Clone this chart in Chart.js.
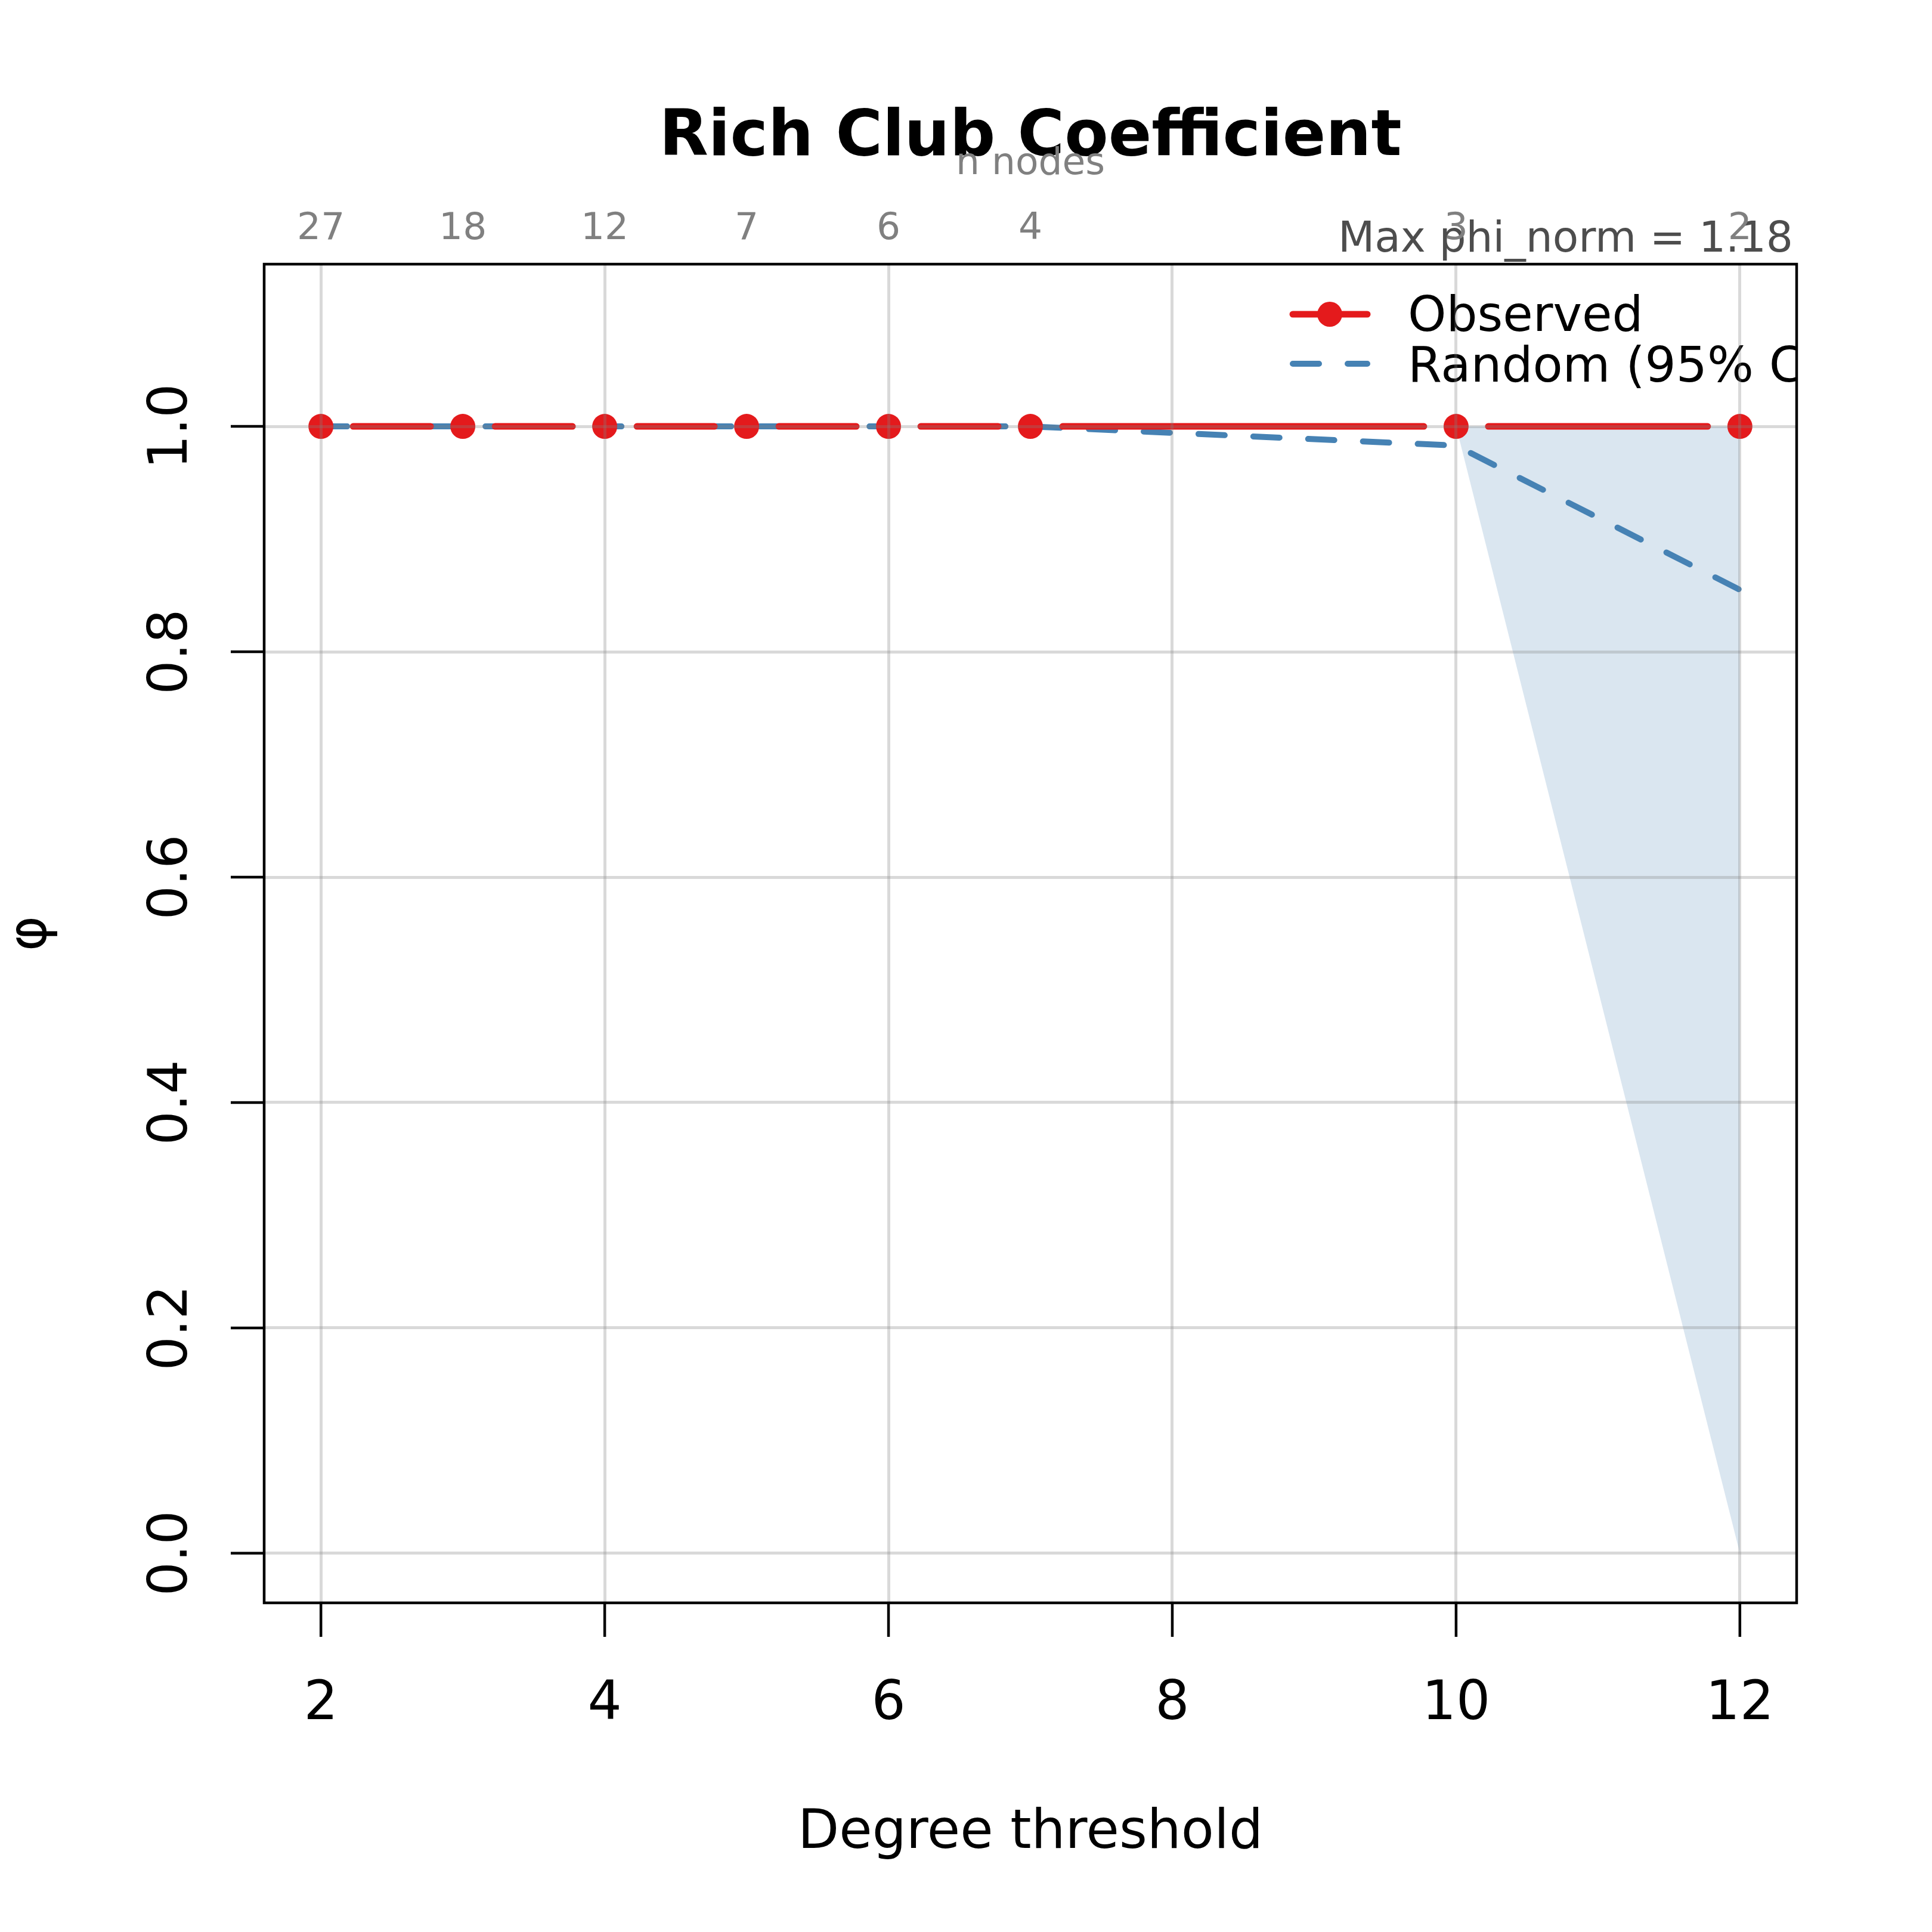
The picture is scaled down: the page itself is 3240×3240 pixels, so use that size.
<!DOCTYPE html>
<html>
<head>
<meta charset="utf-8">
<script src="https://cdn.jsdelivr.net/npm/chart.js@4.4.1/dist/chart.umd.min.js"></script>
<style>
  html, body { margin: 0; padding: 0; background: #fff; }
  #wrap { width: 3240px; height: 3240px; }
</style>
</head>
<body>
<div id="wrap"><canvas id="chart" width="3240" height="3240"></canvas></div>
<script>
// values
const degrees = [2, 3, 4, 5, 6, 7, 10, 12];
const nNodes = [27, 18, 12, 7, 6, 4, 3, 2];
const observed = [1, 1, 1, 1, 1, 1, 1, 1];
const randomMean = [1, 1, 1, 1, 1, 1, 0.983, 0.855];
const randomUpper = [1, 1, 1, 1, 1, 1, 1, 1];
const randomLower = [1, 1, 1, 1, 1, 1, 1, 0];
const xTicks = [2, 4, 6, 8, 10, 12];
const yTicks = [0, 0.2, 0.4, 0.6, 0.8, 1.0];
const maxPhiNorm = 1.18;

const RED = '#E41A1C';
const BLUE = '#4682B4';
const BAND = 'rgba(70, 130, 180, 0.2)';
const GRID = 'rgba(128, 128, 128, 0.3)';
const FONT = '"DejaVu Sans", "Liberation Sans", sans-serif';
const GAP = 54; // gap left around each point, like type = "b"

function toXY(vals) {
  return degrees.map((d, i) => ({ x: d, y: vals[i] }));
}

// axes, labels, legend and titles drawn on top of the library's scales
const rPlot = {
  id: 'rPlot',
  afterDatasetsDraw(chart) {
    const { ctx, chartArea: a } = chart;
    ctx.save();
    ctx.beginPath();
    ctx.rect(a.left, a.top - 200, a.right - a.left, a.bottom - a.top + 200);
    ctx.clip();

    // legend
    ctx.lineCap = 'round';
    ctx.strokeStyle = RED;
    ctx.lineWidth = 11;
    ctx.beginPath();
    ctx.moveTo(2168, 527);
    ctx.lineTo(2293, 527);
    ctx.stroke();
    ctx.fillStyle = RED;
    ctx.beginPath();
    ctx.arc(2230, 527, 21, 0, Math.PI * 2);
    ctx.fill();

    ctx.strokeStyle = BLUE;
    ctx.lineWidth = 10;
    ctx.setLineDash([44, 48]);
    ctx.beginPath();
    ctx.moveTo(2168, 610);
    ctx.lineTo(2293, 610);
    ctx.stroke();
    ctx.setLineDash([]);

    ctx.fillStyle = '#000';
    ctx.font = '82px ' + FONT;
    ctx.textAlign = 'left';
    ctx.textBaseline = 'alphabetic';
    ctx.fillText('Observed', 2361, 555);
    ctx.fillText('Random (95% CI)', 2361, 640);
    ctx.restore();
  },
  afterDraw(chart) {
    const { ctx, chartArea: a, scales: { x, y } } = chart;
    ctx.save();

    // box
    ctx.strokeStyle = '#000';
    ctx.lineWidth = 4.5;
    ctx.strokeRect(a.left, a.top, a.right - a.left, a.bottom - a.top);

    // tick marks
    ctx.beginPath();
    xTicks.forEach(v => {
      const px = x.getPixelForValue(v);
      ctx.moveTo(px, a.bottom);
      ctx.lineTo(px, a.bottom + 57);
    });
    yTicks.forEach(v => {
      const py = y.getPixelForValue(v);
      ctx.moveTo(a.left, py);
      ctx.lineTo(a.left - 56, py);
    });
    ctx.stroke();

    // tick labels
    ctx.fillStyle = '#000';
    ctx.font = '90px ' + FONT;
    ctx.textAlign = 'center';
    ctx.textBaseline = 'alphabetic';
    xTicks.forEach(v => {
      ctx.fillText(String(v), x.getPixelForValue(v), 2883);
    });
    yTicks.forEach(v => {
      ctx.save();
      ctx.translate(313, y.getPixelForValue(v));
      ctx.rotate(-Math.PI / 2);
      ctx.fillText(v.toFixed(1), 0, 0);
      ctx.restore();
    });

    // axis titles
    const midX = (a.left + a.right) / 2;
    const midY = (a.top + a.bottom) / 2;
    ctx.fillText('Degree threshold', midX, 3099);
    ctx.save();
    ctx.translate(77, midY);
    ctx.rotate(-Math.PI / 2);
    ctx.fillText('\u03C6', 0, 0);
    ctx.restore();

    // main title
    ctx.font = 'bold 107px ' + FONT;
    ctx.fillText('Rich Club Coefficient', midX, 260);

    // max phi_norm note
    ctx.fillStyle = '#4D4D4D';
    ctx.font = '71px ' + FONT;
    ctx.textAlign = 'right';
    ctx.fillText('Max phi_norm = ' + maxPhiNorm.toFixed(2), a.right - 6, 422);

    // top axis: n nodes
    ctx.fillStyle = '#808080';
    ctx.font = '63px ' + FONT;
    ctx.textAlign = 'center';
    ctx.fillText('n nodes', midX, 292);
    degrees.forEach((d, i) => {
      ctx.fillText(String(nNodes[i]), x.getPixelForValue(d), 401);
    });

    ctx.restore();
  }
};

new Chart(document.getElementById('chart'), {
  type: 'line',
  data: {
    datasets: [
      {
        label: 'Observed',
        data: toXY(observed),
        borderColor: RED,
        backgroundColor: RED,
        borderWidth: 11,
        borderCapStyle: 'round',
        pointRadius: 21,
        pointHoverRadius: 21,
        pointBackgroundColor: RED,
        pointBorderWidth: 0,
        fill: false,
        tension: 0,
        segment: {
          borderDash: c => {
            const len = Math.hypot(c.p1.x - c.p0.x, c.p1.y - c.p0.y);
            return [0, GAP, Math.max(len - 2 * GAP, 0), GAP];
          }
        }
      },
      {
        label: 'Random',
        data: toXY(randomMean),
        borderColor: BLUE,
        borderWidth: 10,
        borderDash: [44, 48],
        borderCapStyle: 'round',
        pointRadius: 0,
        fill: false,
        tension: 0
      },
      {
        label: 'Random upper',
        data: toXY(randomUpper),
        borderColor: 'rgba(0,0,0,0)',
        borderWidth: 0,
        pointRadius: 0,
        fill: false
      },
      {
        label: 'Random lower',
        data: toXY(randomLower),
        borderColor: 'rgba(0,0,0,0)',
        backgroundColor: BAND,
        borderWidth: 0,
        pointRadius: 0,
        fill: '-1'
      }
    ]
  },
  options: {
    responsive: false,
    animation: false,
    devicePixelRatio: 1,
    layout: { padding: { left: 443, top: 443, right: 227, bottom: 552 } },
    plugins: {
      legend: { display: false },
      title: { display: false },
      tooltip: { enabled: false }
    },
    scales: {
      x: {
        type: 'linear',
        min: 1.6,
        max: 12.4,
        afterBuildTicks: s => { s.ticks = xTicks.map(v => ({ value: v })); },
        ticks: { display: false },
        grid: { color: GRID, lineWidth: 5, drawTicks: false, z: 1 },
        border: { display: false }
      },
      y: {
        type: 'linear',
        min: -0.044,
        max: 1.144,
        afterBuildTicks: s => { s.ticks = yTicks.map(v => ({ value: v })); },
        ticks: { display: false },
        grid: { color: GRID, lineWidth: 5, drawTicks: false, z: 1 },
        border: { display: false }
      }
    }
  },
  plugins: [rPlot]
});
</script>
</body>
</html>
